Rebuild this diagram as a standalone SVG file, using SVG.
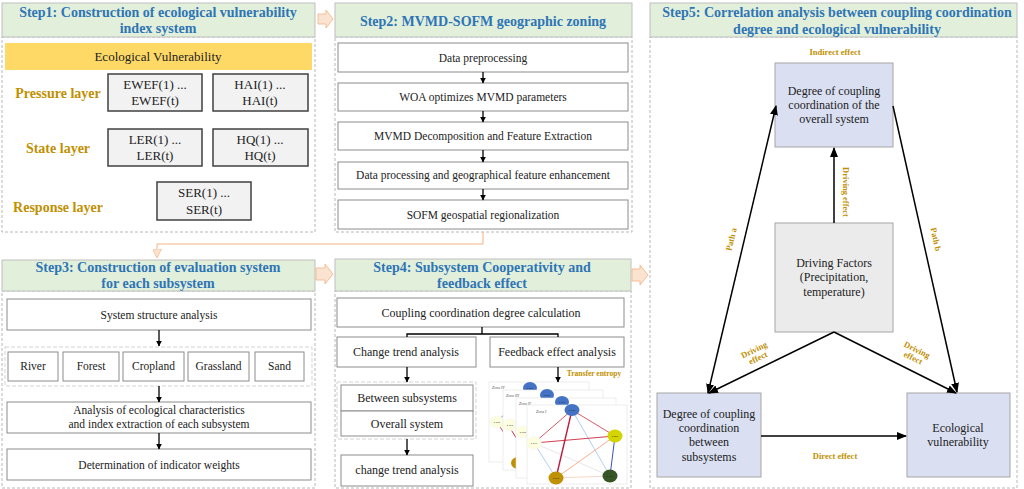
<svg xmlns="http://www.w3.org/2000/svg" width="1024" height="489" viewBox="0 0 1024 489">
<defs>
<style>
.hdr{fill:#e2efda;stroke:#bfbfbf;stroke-width:1}
.panel{fill:none;stroke:#a6a6a6;stroke-width:0.8;stroke-dasharray:3,2}
.box{fill:#fff;stroke:#8c8c8c;stroke-width:1}
.gbox{fill:#f2f2f2;stroke:#404040;stroke-width:1.5}
.vbox{fill:#dae0f2;stroke:#a6a6a6;stroke-width:1}
.dbox{fill:#ebebeb;stroke:#a6a6a6;stroke-width:1}
.grp{fill:none;stroke:#c8c8c8;stroke-width:0.8;stroke-dasharray:4,2}
.t{font-family:"Liberation Serif","Times New Roman",serif;font-size:12px;fill:#222;text-anchor:middle}
.title{font-family:"Liberation Serif","Times New Roman",serif;font-size:14px;font-weight:bold;fill:#2e75b6;text-anchor:middle}
.lyr{font-family:"Liberation Serif","Times New Roman",serif;font-size:14px;font-weight:bold;fill:#bf9000;text-anchor:middle}
.lbl{font-family:"Liberation Serif","Times New Roman",serif;font-size:8.5px;font-weight:bold;fill:#bf9000;text-anchor:middle}
.fat{fill:#fbe3d1;stroke:#f4b183;stroke-width:0.8}
.ln{stroke:#000;stroke-width:1.5;fill:none}
.ln2{stroke:#000;stroke-width:1.3;fill:none}
.zp{fill:#fff;stroke:#e0e0e0;stroke-width:0.6}
.zt{font-family:"Liberation Serif",serif;font-size:4px;fill:#555;font-style:italic}
.nt{font-family:"Liberation Sans",sans-serif;font-size:2.5px;fill:#222;text-anchor:middle}
</style>
<marker id="ah" viewBox="0 0 10 10" refX="9" refY="5" markerWidth="6" markerHeight="6" orient="auto-start-reverse" markerUnits="userSpaceOnUse">
<path d="M0,0 L10,5 L0,10 z" fill="#000"/>
</marker>
<marker id="ah2" viewBox="0 0 10 10" refX="9" refY="5" markerWidth="10" markerHeight="10" orient="auto-start-reverse" markerUnits="userSpaceOnUse">
<path d="M0,1 L10,5 L0,9 z" fill="#000"/>
</marker>
<marker id="oh" viewBox="0 0 10 10" refX="9" refY="5" markerWidth="9" markerHeight="9" orient="auto" markerUnits="userSpaceOnUse">
<path d="M0,0 L10,5 L0,10 z" fill="#fbe3d1" stroke="#f4b183" stroke-width="0.8"/>
</marker>
</defs>
<rect width="1024" height="489" fill="#fff"/>

<!-- Step 1 -->
<g id="step1">
<rect class="panel" x="2" y="37" width="313" height="195"/>
<rect class="hdr" x="2" y="3" width="313" height="34"/>
<text class="title" x="158" y="17">Step1: Construction of ecological vulnerability</text>
<text class="title" x="158" y="33">index system</text>
<rect x="5" y="43" width="307" height="27" fill="#ffd966"/>
<text class="t" x="158" y="61" style="font-size:13px">Ecological Vulnerability</text>
<text class="lyr" x="58" y="98">Pressure layer</text>
<text class="lyr" x="58" y="153">State layer</text>
<text class="lyr" x="58" y="212">Response layer</text>
<g id="ewef"><rect class="gbox" x="108" y="74" width="94" height="37"/><text class="t" x="155" y="89" style="font-size:13px">EWEF(1) ...</text><text class="t" x="155" y="105" style="font-size:13px">EWEF(t)</text></g>
<g id="hai"><rect class="gbox" x="213" y="74" width="95" height="37"/><text class="t" x="260" y="89" style="font-size:13px">HAI(1) ...</text><text class="t" x="260" y="105" style="font-size:13px">HAI(t)</text></g>
<g id="ler"><rect class="gbox" x="108" y="129" width="94" height="37"/><text class="t" x="155" y="144" style="font-size:13px">LER(1) ...</text><text class="t" x="155" y="160" style="font-size:13px">LER(t)</text></g>
<g id="hq"><rect class="gbox" x="213" y="129" width="95" height="37"/><text class="t" x="260" y="144" style="font-size:13px">HQ(1) ...</text><text class="t" x="260" y="160" style="font-size:13px">HQ(t)</text></g>
<g id="ser"><rect class="gbox" x="157" y="182" width="94" height="38"/><text class="t" x="204" y="197" style="font-size:13px">SER(1) ...</text><text class="t" x="204" y="214" style="font-size:13px">SER(t)</text></g>
</g>

<!-- Step 2 -->
<g id="step2">
<rect class="panel" x="335" y="37" width="297" height="195"/>
<rect class="hdr" x="335" y="3" width="297" height="34"/>
<text class="title" x="483" y="26">Step2: MVMD-SOFM geographic zoning</text>
<g id="s2b1"><rect class="box" x="338" y="43" width="290" height="29"/><text class="t" x="483" y="62" style="font-size:11.5px">Data preprocessing</text></g>
<g id="s2b2"><rect class="box" x="338" y="83" width="290" height="28"/><text class="t" x="483" y="101" style="font-size:11.5px">WOA optimizes MVMD parameters</text></g>
<g id="s2b3"><rect class="box" x="338" y="122" width="290" height="28"/><text class="t" x="483" y="140" style="font-size:11.5px">MVMD Decomposition and Feature Extraction</text></g>
<g id="s2b4"><rect class="box" x="338" y="162" width="290" height="27"/><text class="t" x="483" y="179" style="font-size:11.5px">Data processing and geographical feature enhancement</text></g>
<g id="s2b5"><rect class="box" x="338" y="200" width="290" height="29"/><text class="t" x="483" y="219" style="font-size:11.5px">SOFM geospatial regionalization</text></g>
</g>

<!-- Step 3 -->
<g id="step3">
<rect class="panel" x="2" y="291" width="313" height="197"/>
<rect class="hdr" x="2" y="260" width="313" height="31"/>
<text class="title" x="158" y="272">Step3: Construction of evaluation system</text>
<text class="title" x="158" y="288">for each subsystem</text>
<g id="s3b1"><rect class="box" x="7" y="299" width="304" height="31"/><text class="t" x="159" y="319" style="font-size:11.5px">System structure analysis</text></g>
<rect class="grp" x="5" y="347" width="307" height="39"/>
<g id="river"><rect class="box" x="8" y="352" width="50" height="29"/><text class="t" x="33" y="370" style="font-size:11.5px">River</text></g>
<g id="forest"><rect class="box" x="63" y="352" width="56" height="29"/><text class="t" x="91" y="370" style="font-size:11.5px">Forest</text></g>
<g id="cropland"><rect class="box" x="123" y="352" width="61" height="29"/><text class="t" x="153.5" y="370" style="font-size:11.5px">Cropland</text></g>
<g id="grassland"><rect class="box" x="188" y="352" width="61" height="29"/><text class="t" x="218.5" y="370" style="font-size:11.5px">Grassland</text></g>
<g id="sand"><rect class="box" x="255" y="352" width="49" height="29"/><text class="t" x="279.5" y="370" style="font-size:11.5px">Sand</text></g>
<g id="s3b3"><rect class="box" x="7" y="402" width="304" height="31"/><text class="t" x="159" y="414" style="font-size:11.5px">Analysis of ecological characteristics</text><text class="t" x="159" y="428" style="font-size:11.5px">and index extraction of each subsystem</text></g>
<g id="s3b4"><rect class="box" x="7" y="449" width="304" height="31"/><text class="t" x="159" y="469" style="font-size:11.5px">Determination of indicator weights</text></g>
</g>

<!-- Step 4 -->
<g id="step4">
<rect class="panel" x="335" y="291" width="296" height="197"/>
<rect class="hdr" x="335" y="259" width="296" height="32"/>
<text class="title" x="482" y="272">Step4: Subsystem Cooperativity and</text>
<text class="title" x="482" y="288">feedback effect</text>
<g id="s4b1"><rect class="box" x="337" y="298" width="287" height="29"/><text class="t" x="481" y="317">Coupling coordination degree calculation</text></g>
<g id="s4b2"><rect class="box" x="337" y="337" width="139" height="30"/><text class="t" x="406" y="356">Change trend analysis</text></g>
<g id="s4b3"><rect class="box" x="490" y="337" width="134" height="30"/><text class="t" x="557" y="356">Feedback effect analysis</text></g>
<rect class="grp" x="337" y="382" width="139" height="57"/>
<g id="s4b4"><rect class="box" x="341" y="385" width="132" height="26"/><text class="t" x="407" y="402">Between subsystems</text></g>
<g id="s4b5"><rect class="box" x="341" y="411" width="132" height="25"/><text class="t" x="407" y="428">Overall system</text></g>
<g id="s4b6"><rect class="box" x="341" y="455" width="132" height="31"/><text class="t" x="407" y="474">change trend analysis</text></g>
<text class="lbl" x="594" y="376" style="font-size:7.5px">Transfer entropy</text>
<!-- network panels -->
<g id="net">
<g transform="translate(489,382)">
<rect class="zp" x="0" y="0" width="100" height="80"/>
<text class="zt" x="3" y="7">Zone IV</text>
<line x1="8" y1="40" x2="40" y2="6" stroke="#3a5fc8" stroke-width="0.8"/>
<line x1="8" y1="40" x2="29" y2="73" stroke="#c0304a" stroke-width="0.9"/>
<ellipse cx="41" cy="6" rx="7" ry="6" fill="#4472c4"/><text class="nt" x="41" y="7">1.037</text>
<ellipse cx="8" cy="40" rx="7" ry="6" fill="#fdfde0" stroke="#eee" stroke-width="0.3"/><text class="nt" x="8" y="41">1.100</text>
<ellipse cx="29" cy="73" rx="7" ry="6" fill="#bf9000"/>
</g>
<g transform="translate(503,390)">
<rect class="zp" x="0" y="0" width="100" height="80"/>
<text class="zt" x="3" y="7">Zone III</text>
<line x1="7" y1="38" x2="29" y2="73" stroke="#c0304a" stroke-width="1"/>
<ellipse cx="44" cy="5" rx="7" ry="6" fill="#4472c4"/><text class="nt" x="44" y="6">1.018</text>
<ellipse cx="7" cy="35" rx="7" ry="6" fill="#fdfde0" stroke="#eee" stroke-width="0.3"/><text class="nt" x="7" y="36">1.097</text>
<ellipse cx="15" cy="73" rx="7" ry="6" fill="#bf9000"/>
</g>
<g transform="translate(516,398)">
<rect class="zp" x="0" y="0" width="100" height="80"/>
<text class="zt" x="3" y="7">Zone II</text>
<ellipse cx="46" cy="4" rx="7" ry="6" fill="#4472c4"/><text class="nt" x="46" y="5">1.097</text>
<ellipse cx="7" cy="34" rx="7" ry="6" fill="#fdfde0" stroke="#eee" stroke-width="0.3"/><text class="nt" x="7" y="35">1.177</text>
</g>
<g transform="translate(527,405)">
<rect class="zp" x="0" y="0" width="100" height="79"/>
<text class="zt" x="9" y="8">Zone I</text>
<line x1="45" y1="5" x2="7" y2="38" stroke="#d04858" stroke-width="0.9"/>
<line x1="45" y1="5" x2="88" y2="31" stroke="#d04858" stroke-width="0.9"/>
<line x1="45" y1="5" x2="83" y2="71" stroke="#a8c8ee" stroke-width="0.9"/>
<line x1="7" y1="38" x2="88" y2="31" stroke="#d04050" stroke-width="1"/>
<line x1="7" y1="38" x2="29" y2="73" stroke="#a8c8ee" stroke-width="0.9"/>
<line x1="7" y1="38" x2="83" y2="71" stroke="#e4e4e4" stroke-width="0.9"/>
<line x1="88" y1="31" x2="29" y2="73" stroke="#f4a582" stroke-width="0.9"/>
<line x1="88" y1="31" x2="83" y2="71" stroke="#3a4fc0" stroke-width="1"/>
<line x1="29" y1="73" x2="83" y2="71" stroke="#f8d8c8" stroke-width="1"/>
<line x1="45" y1="5" x2="29" y2="73" stroke="#b81e40" stroke-width="1.4"/>
<ellipse cx="45" cy="5" rx="7.5" ry="6" fill="#4472c4"/><text class="nt" x="45" y="6">1.606</text>
<ellipse cx="88" cy="31" rx="7.5" ry="6.5" fill="#d4d400"/><text class="nt" x="88" y="32">1.219</text>
<ellipse cx="7" cy="38" rx="7.5" ry="6.5" fill="#fdfde0" stroke="#eee" stroke-width="0.3"/><text class="nt" x="7" y="39">1.149</text>
<ellipse cx="29" cy="73" rx="7.5" ry="6.5" fill="#bf9000"/><text class="nt" x="29" y="74">1.546</text>
<ellipse cx="83" cy="71" rx="7.5" ry="6.5" fill="#375623"/><text class="nt" x="83" y="72">1.154</text>
</g>
</g>
</g>

<!-- Step 5 -->
<g id="step5">
<rect class="panel" x="650" y="37" width="367" height="451"/>
<rect class="hdr" x="650" y="3" width="367" height="34"/>
<text class="title" x="837" y="17">Step5: Correlation analysis between coupling coordination</text>
<text class="title" x="837" y="34">degree and ecological vulnerability</text>
<g id="overall"><rect class="vbox" x="775" y="63" width="118" height="84"/><text class="t" x="834" y="95">Degree of coupling</text><text class="t" x="834" y="109">coordination of the</text><text class="t" x="834" y="123">overall system</text></g>
<g id="driving"><rect class="dbox" x="775" y="223" width="118" height="109"/><text class="t" x="834" y="267">Driving Factors</text><text class="t" x="834" y="281">(Precipitation,</text><text class="t" x="834" y="296">temperature)</text></g>
<g id="between"><rect class="vbox" x="657" y="393" width="104" height="84"/><text class="t" x="709" y="418">Degree of coupling</text><text class="t" x="709" y="432">coordination</text><text class="t" x="709" y="446">between</text><text class="t" x="709" y="461">subsystems</text></g>
<g id="ecovul"><rect class="vbox" x="907" y="393" width="103" height="84"/><text class="t" x="958" y="432">Ecological</text><text class="t" x="958" y="446">vulnerability</text></g>
<text class="lbl" x="835" y="55">Indirect effect</text>
<text class="lbl" x="835" y="459">Direct effect</text>
<text class="lbl" transform="translate(843,192) rotate(90)">Driving effect</text>
<text class="lbl" transform="translate(734,240) rotate(-76.7)">Path a</text>
<text class="lbl" transform="translate(933,240) rotate(77.4)">Path b</text>
<g transform="translate(757,356) rotate(-26)"><text class="lbl" x="0" y="-4">Driving</text><text class="lbl" x="0" y="5">effect</text></g>
<g transform="translate(914,356) rotate(26)"><text class="lbl" x="0" y="-4">Driving</text><text class="lbl" x="0" y="5">effect</text></g>
</g>

<!-- connectors -->
<g id="connectors">
<polygon class="fat" points="318,14 326,14 326,10 333,19 326,28 326,24 318,24"/>
<polygon class="fat" points="316,268 325,268 325,264 333,274 325,284 325,280 316,280"/>
<polygon class="fat" points="632,269 640,269 640,265 648,275 640,285 640,281 632,281"/>
<polyline points="483,232 483,244 157,244 157,257" fill="none" stroke="#f4b183" stroke-width="1" marker-end="url(#oh)"/>
<line class="ln2" x1="483" y1="72" x2="483" y2="83" marker-end="url(#ah)"/>
<line class="ln2" x1="483" y1="111" x2="483" y2="122" marker-end="url(#ah)"/>
<line class="ln2" x1="483" y1="150" x2="483" y2="162" marker-end="url(#ah)"/>
<line class="ln2" x1="483" y1="189" x2="483" y2="200" marker-end="url(#ah)"/>
<line class="ln2" x1="159" y1="330" x2="159" y2="346" marker-end="url(#ah)"/>
<line class="ln2" x1="159" y1="386" x2="159" y2="402" marker-end="url(#ah)"/>
<line class="ln2" x1="159" y1="433" x2="159" y2="449" marker-end="url(#ah)"/>
<polyline class="ln2" points="482,327 482,334"/>
<polyline class="ln2" points="407,337 407,334 558,334 558,337"/>
<line class="ln2" x1="407" y1="367" x2="407" y2="382" marker-end="url(#ah)"/>
<line class="ln2" x1="558" y1="367" x2="558" y2="382" marker-end="url(#ah)"/>
<line class="ln2" x1="407" y1="439" x2="407" y2="455" marker-end="url(#ah)"/>
<line class="ln" x1="834" y1="223" x2="834" y2="148" marker-end="url(#ah2)"/>
<line class="ln" x1="708" y1="393" x2="776" y2="106" marker-start="url(#ah2)" marker-end="url(#ah2)"/>
<line class="ln" x1="893" y1="106" x2="957" y2="392" marker-end="url(#ah2)"/>
<line class="ln" x1="834" y1="332" x2="709" y2="393" marker-end="url(#ah2)"/>
<line class="ln" x1="834" y1="332" x2="956" y2="393" marker-end="url(#ah2)"/>
<line class="ln" x1="761" y1="436" x2="906" y2="436" marker-end="url(#ah2)"/>
</g>
</svg>
